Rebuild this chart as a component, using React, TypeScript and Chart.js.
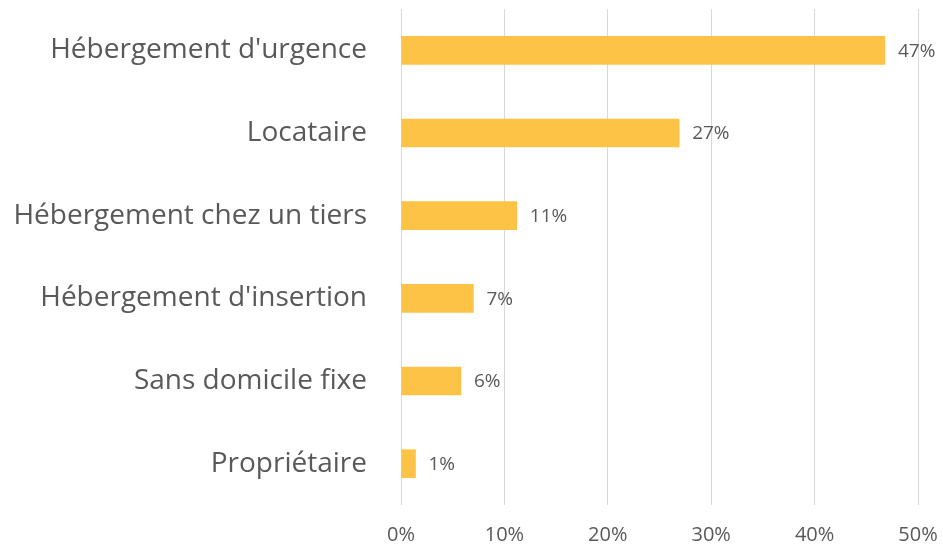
import React, { useEffect, useRef } from "react";
import { Chart, registerables } from "chart.js";

Chart.register(...registerables);

const categories = [
  "Hébergement d'urgence",
  "Locataire",
  "Hébergement chez un tiers",
  "Hébergement d'insertion",
  "Sans domicile fixe",
  "Propriétaire",
];
const values = [46.8, 26.9, 11.2, 7.0, 5.8, 1.4];
const valueLabels = ["47%", "27%", "11%", "7%", "6%", "1%"];
const xTicks = [0, 10, 20, 30, 40, 50];

const FONT = "'Open Sans', 'Liberation Sans', sans-serif";
const TEXT = "#595959";

const labelPlugin = {
  id: "valueLabels",
  afterDatasetsDraw(chart: any) {
    const ctx = chart.ctx;
    const meta = chart.getDatasetMeta(0);
    ctx.save();
    ctx.font = `19px ${FONT}`;
    ctx.fillStyle = TEXT;
    ctx.textAlign = "left";
    ctx.textBaseline = "middle";
    meta.data.forEach((bar: any, i: number) => {
      ctx.fillText(valueLabels[i], bar.x + 13, bar.y + 1);
    });
    ctx.restore();
  },
};

export default function App() {
  const ref = useRef<HTMLCanvasElement>(null);
  useEffect(() => {
    document.body.style.margin = "0";
    const chart = new Chart(ref.current!, {
      type: "bar",
      data: {
        labels: categories,
        datasets: [
          {
            data: values,
            backgroundColor: "#FDC347",
            barThickness: 28,
          },
        ],
      },
      options: {
        indexAxis: "y",
        animation: false,
        responsive: false,
        maintainAspectRatio: false,
        layout: { padding: { top: 9, right: 25, left: 0, bottom: 0 } },
        plugins: { legend: { display: false }, tooltip: { enabled: false } },
        scales: {
          x: {
            min: 0,
            max: 50,
            afterBuildTicks(scale: any) {
              scale.ticks = xTicks.map((v) => ({ value: v }));
            },
            afterFit(scale: any) {
              scale.height = 39;
              scale.paddingLeft = 0;
              scale.paddingRight = 0;
            },
            grid: { color: "#D9D9D9", lineWidth: 1, drawTicks: false },
            border: { display: false },
            ticks: {
              padding: 18,
              color: TEXT,
              font: { family: FONT, size: 20 },
              callback: (v: any) => `${v}%`,
            },
          },
          y: {
            afterFit(scale: any) {
              scale.width = 401;
              scale.paddingTop = 0;
              scale.paddingBottom = 0;
            },
            grid: { display: false },
            border: { display: false },
            ticks: {
              padding: 26,
              color: TEXT,
              font: { family: FONT, size: 28 },
            },
          },
        },
      },
      plugins: [labelPlugin],
    });
    return () => chart.destroy();
  }, []);
  return (
    <div style={{ width: 943, height: 544, background: "#fff" }}>
      <canvas ref={ref} width={943} height={544} style={{ display: "block" }} />
    </div>
  );
}
